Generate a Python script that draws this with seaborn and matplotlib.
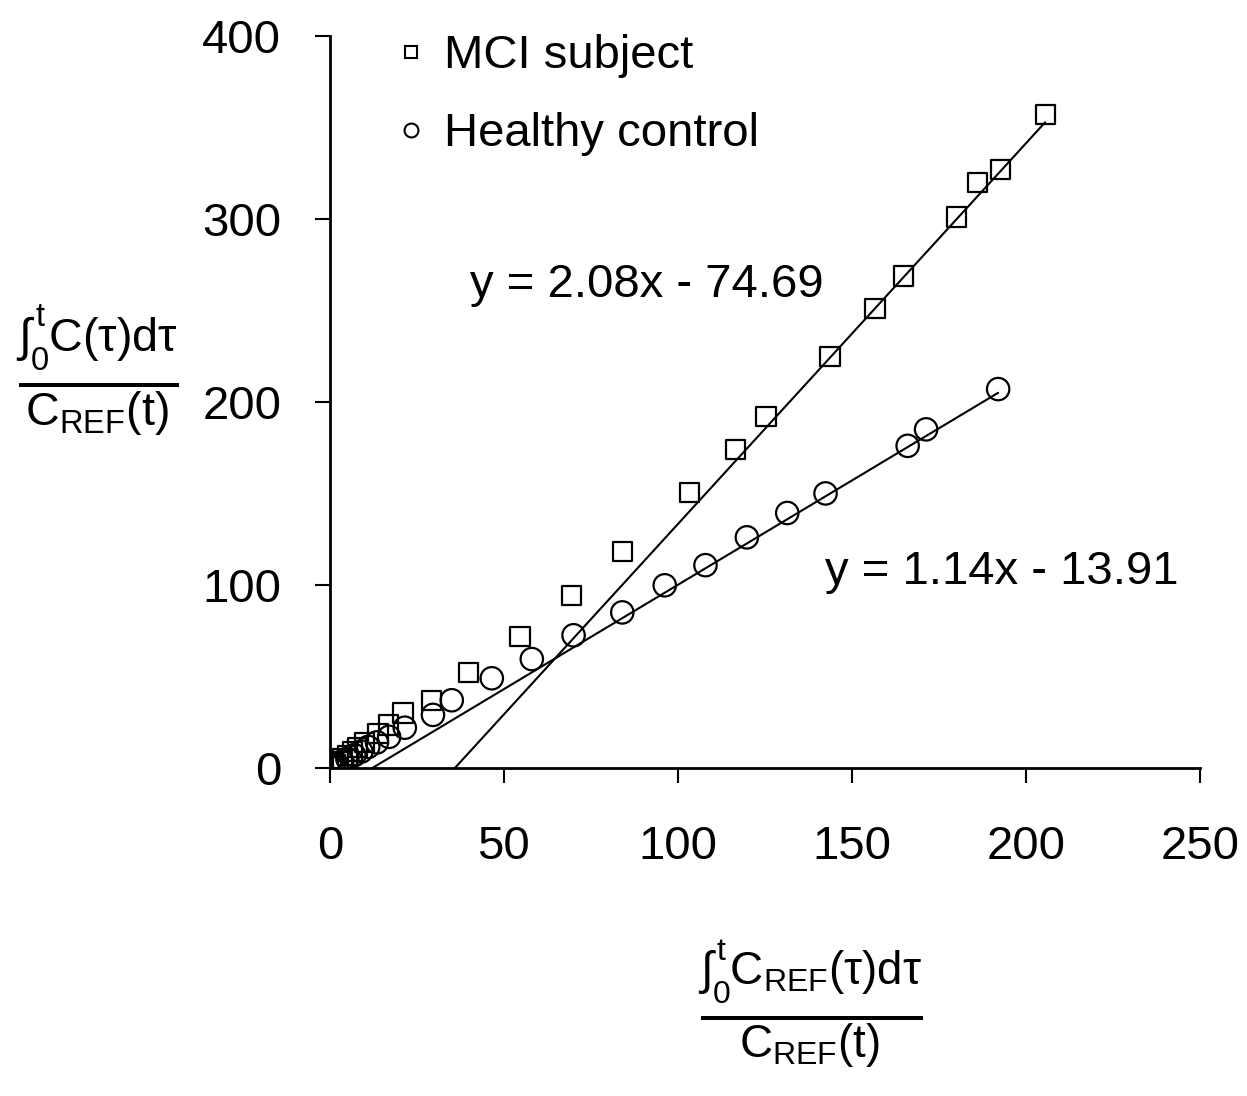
import numpy as np
import pandas as pd
import matplotlib
matplotlib.use("Agg")
import matplotlib.pyplot as plt
from matplotlib.lines import Line2D
import seaborn as sns

sns.set_theme(style="ticks")
plt.rcParams['font.family'] = ['Liberation Sans', 'DejaVu Sans']
plt.rcParams['text.color'] = 'black'
plt.rcParams['mathtext.fontset'] = 'custom'
plt.rcParams['mathtext.rm'] = 'Liberation Sans'
plt.rcParams['mathtext.it'] = 'Liberation Sans'
plt.rcParams['mathtext.bf'] = 'Liberation Sans'

# ---- data ----
mci_x = [0.3, 0.8, 1.5, 2.5, 3.5, 5, 6.5, 8, 10, 13.8, 16.7, 21, 29.3, 39.7, 54.6, 69.4,
         84, 103.3, 116.5, 125.3, 143.7, 156.6, 164.7, 180, 186.1, 192.7, 205.5]
mci_y = [0.5, 1.2, 2, 3.5, 5, 7, 9, 11, 14, 19, 23.5, 30, 37, 52, 71.7, 94.3,
         118.5, 150.3, 174, 192, 225, 250.8, 268.8, 301, 320, 327, 357]
hc_x = [0.3, 1, 2, 3.5, 5, 7, 9, 11, 13.5, 17, 21.5, 29.6, 35, 46.5, 58, 70, 84,
        96.2, 107.9, 119.8, 131.4, 142.4, 166, 171.3, 192]
hc_y = [0.3, 1, 2, 3.5, 5, 7, 9, 11.5, 14, 17, 22, 29, 37, 49, 59.5, 72.5, 85,
        99.8, 110.8, 126, 139.3, 150, 176, 185, 207]
labels = ["MCI subject", "Healthy control"]
fits = {"MCI subject": (2.08, -74.69), "Healthy control": (1.14, -13.91)}
eq_texts = ["y = 2.08x - 74.69", "y = 1.14x - 13.91"]
x_ticks = [0, 50, 100, 150, 200, 250]
y_ticks = [0, 100, 200, 300, 400]

fig = plt.figure(figsize=(12.47, 10.96), dpi=100)
ax = fig.add_axes([0.2646, 0.2993, 0.6977, 0.668])

# fit lines (from the regression equations)
for lab, xs in zip(labels, [mci_x, hc_x]):
    m, b = fits[lab]
    x0 = -b / m
    x1 = max(xs)
    lx = np.array([x0, x1])
    sns.lineplot(x=lx, y=m * lx + b, ax=ax, color="black", linewidth=1.5, legend=False)

sns.scatterplot(x=mci_x, y=mci_y, ax=ax, marker="s", s=190, color="black",
                edgecolor="black", linewidth=1.6, legend=False)
ax.collections[-1].set_facecolor("none")
sns.scatterplot(x=hc_x, y=hc_y, ax=ax, marker="o", s=260, color="black",
                edgecolor="black", linewidth=1.6, legend=False)
ax.collections[-1].set_facecolor("none")

ax.set_xlim(0, 250)
ax.set_ylim(0, 400)
ax.set_xticks(x_ticks)
ax.set_yticks(y_ticks)
ax.tick_params(axis="both", labelsize=34, length=11, width=1.5, color="black",
               labelcolor="black", direction="out")
ax.tick_params(axis="x", pad=30)
ax.tick_params(axis="y", pad=24)
sns.despine(ax=ax)
for sp in ["left", "bottom"]:
    ax.spines[sp].set_color("black")
    ax.spines[sp].set_linewidth(2)
ax.set_xlabel("")
ax.set_ylabel("")
ax.grid(False)

ax.text(40.2, 264, eq_texts[0], fontsize=34, va="center", ha="left", color="black")
ax.text(142.2, 107, eq_texts[1], fontsize=34, va="center", ha="left", color="black")

handles = [
    Line2D([], [], marker="s", linestyle="none", markersize=9, markerfacecolor="none",
           markeredgecolor="black", markeredgewidth=1.5),
    Line2D([], [], marker="o", linestyle="none", markersize=10, markerfacecolor="none",
           markeredgecolor="black", markeredgewidth=1.5),
]
ax.legend(handles, labels, loc="upper left", bbox_to_anchor=(0.055, 1.028), frameon=False,
          fontsize=34, handlelength=0.6, handletextpad=0.4, labelspacing=0.72,
          borderaxespad=0, labelcolor="black")

fig.text(0.078, 0.662,
         r"$\frac{\int_{0}^{t}\mathrm{C}(\tau)\mathrm{d}\tau}{\mathrm{C}_{\mathrm{REF}}(\mathrm{t})}$",
         fontsize=48, ha="center", va="center", color="black")
fig.text(0.65, 0.083,
         r"$\frac{\int_{0}^{t}\mathrm{C}_{\mathrm{REF}}(\tau)\mathrm{d}\tau}{\mathrm{C}_{\mathrm{REF}}(\mathrm{t})}$",
         fontsize=47, ha="center", va="center", color="black")

fig.savefig("out.png", dpi=100, facecolor="white")
